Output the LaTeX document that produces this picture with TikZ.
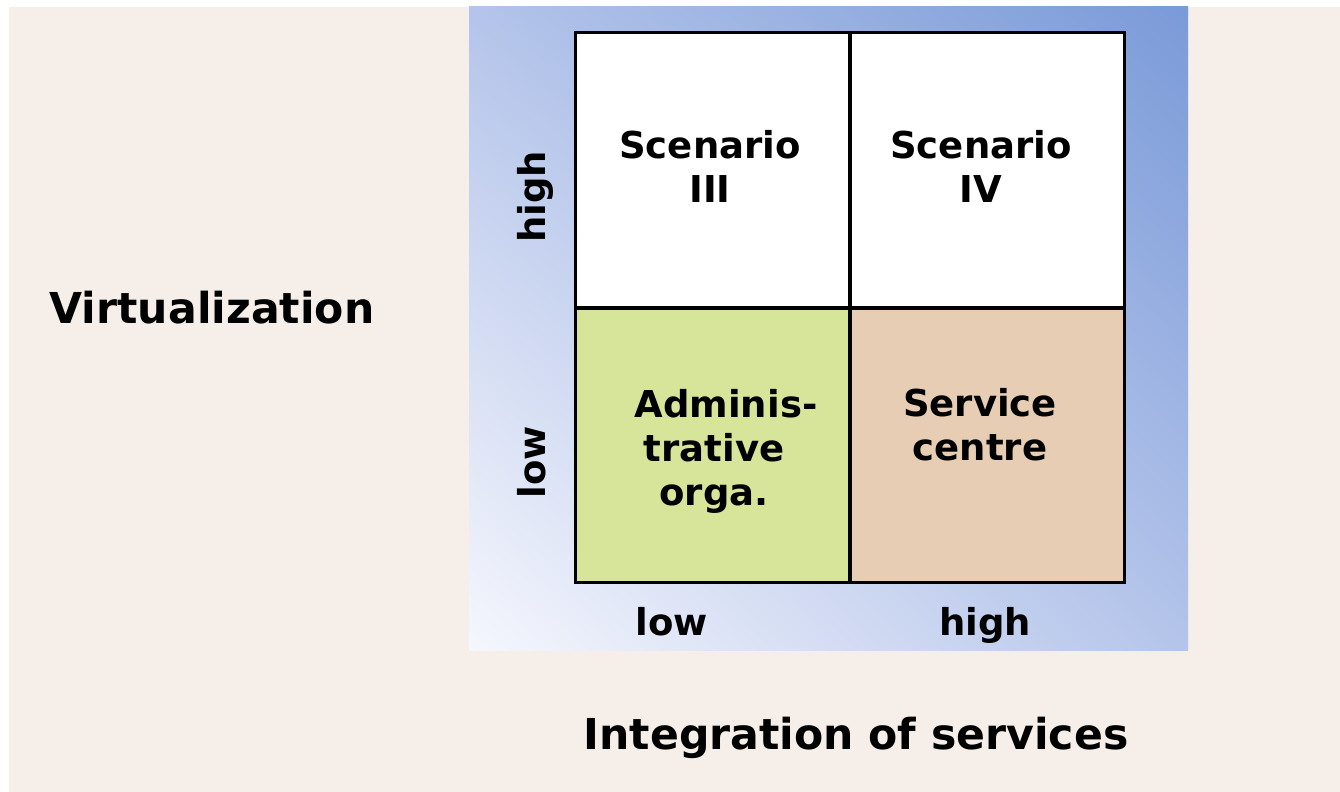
\documentclass[tikz,border=0pt]{standalone}
\usepackage{fontspec}
\setmainfont{DejaVu Sans}
\usetikzlibrary{shadings}
\definecolor{peach}{HTML}{F6EEE8}
\definecolor{cellgreen}{HTML}{D6E599}
\definecolor{celltan}{HTML}{E6CDB4}
\definecolor{gUL}{HTML}{B4C4EA}
\definecolor{gUR}{HTML}{7A9AD8}
\definecolor{gLL}{HTML}{F6F7FD}
\definecolor{gLR}{HTML}{B4C4EA}
\begin{document}
\begin{tikzpicture}[x=0.5pt,y=-0.5pt,
  cell/.style={draw=black,line width=1.5pt,minimum width=137pt,minimum height=137pt,inner sep=0pt},
  celltext/.style={font=\fontsize{18.5}{22}\selectfont\bfseries,align=center,inner sep=0pt},
  axislab/.style={font=\fontsize{18.5}{22}\selectfont\bfseries,inner sep=0pt,anchor=base},
  bigtext/.style={font=\fontsize{21.3}{25}\selectfont\bfseries,inner sep=0pt}]
\useasboundingbox (0,0) rectangle (1340,792);
\fill[white] (0,0) rectangle (1340,792);
\fill[peach] (9,7) rectangle (1340,792);
\shade[upper left=gUL,upper right=gUR,lower left=gLL,lower right=gLR] (469,7) rectangle (1188,650);
\node[cell,fill=white] (c3) at (712,170) {};
\node[cell,fill=white] (c4) at (987,170) {};
\node[cell,fill=cellgreen] (c1) at (712,445) {};
\node[cell,fill=celltan] (c2) at (987,445) {};
\node[celltext] (t3) at (710,166) {Scenario\\III};
\node[celltext] (t4) at (981,166) {Scenario\\IV};
\node[celltext] (t1) at (714,451) {\hspace*{12pt}Adminis-\\trative\\orga.};
\node[celltext] (t2) at (980,425) {Service\\centre};
\node[axislab,rotate=90] (vh) at (545,197) {high};
\node[axislab,rotate=90] (vl) at (545,462) {low};
\node[axislab] (hl) at (672,635) {low};
\node[axislab] (hh) at (985,635) {high};
\node[bigtext] (yl) at (212,308) {Virtualization};
\node[bigtext] (xl) at (856,738) {Integration of services};
\end{tikzpicture}
\end{document}
